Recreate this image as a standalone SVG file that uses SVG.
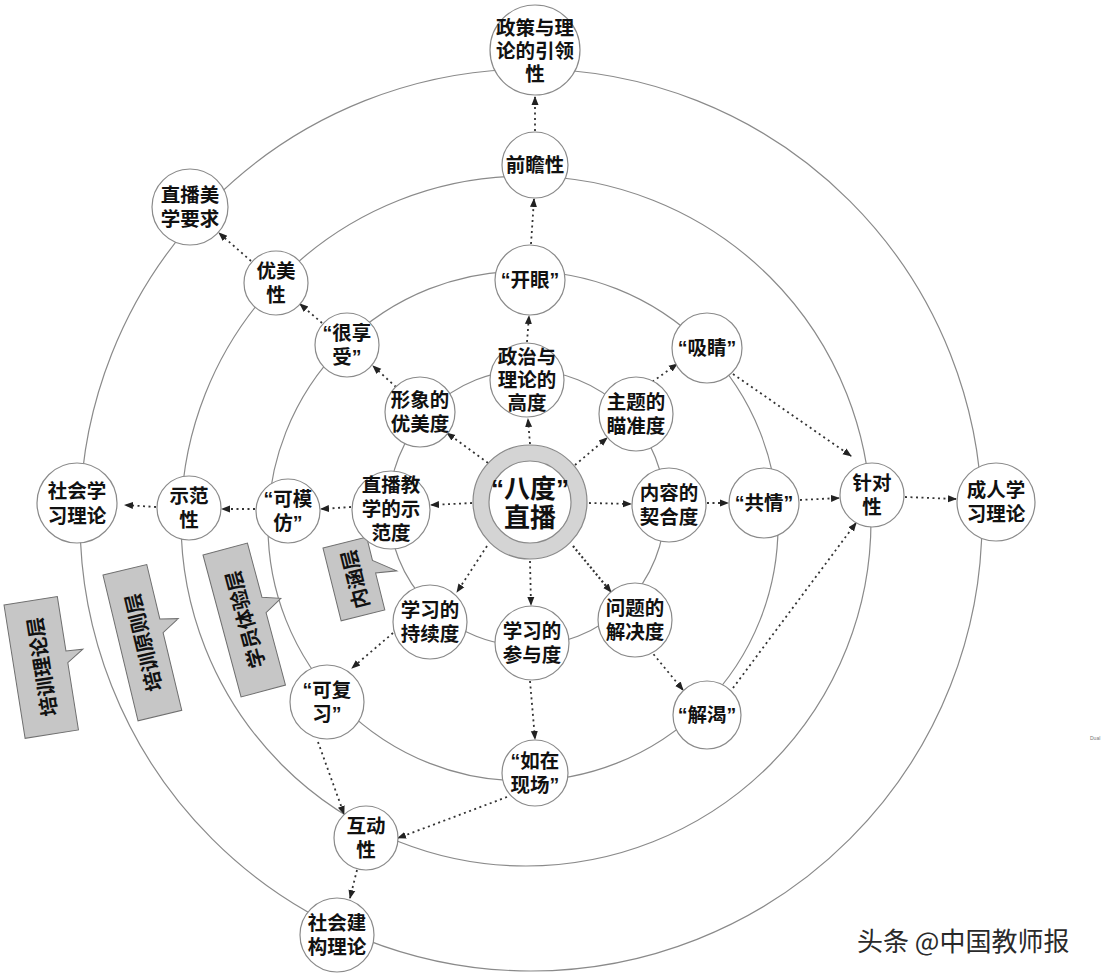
<svg xmlns="http://www.w3.org/2000/svg" width="1114" height="978" viewBox="0 0 1114 978">
<defs>
<style>
.ring{fill:none;stroke:#8a8a8a;stroke-width:1.2}
.nd{fill:#fff;stroke:#8a8a8a;stroke-width:1.2}
.t{font-family:"Liberation Sans","Noto Sans CJK SC",sans-serif;font-weight:700;font-size:19.5px;fill:#111;text-anchor:middle;dominant-baseline:central}
.tc{font-size:26px}
.conn path{fill:none;stroke:#333;stroke-width:1.8;stroke-dasharray:2 3.5;marker-end:url(#ah)}
.box{fill:#c6c6c6;stroke:#6f6f6f;stroke-width:1}
.bt{font-family:"Noto Sans CJK SC",sans-serif;font-weight:700;font-size:20px;fill:#111;text-anchor:middle;dominant-baseline:central}
.wm{font-family:"Noto Sans CJK SC",sans-serif;font-size:26px;fill:#2a2a2a}
</style>
<marker id="ah" markerUnits="userSpaceOnUse" markerWidth="9" markerHeight="9" refX="8" refY="4.5" orient="auto">
<path d="M0,1 L9,4.5 L0,8 z" fill="#222"/>
</marker>
</defs>
<rect width="1114" height="978" fill="#fff"/>

<g id="rings">
<circle class="ring" cx="531" cy="520" r="451"/>
<circle class="ring" cx="526" cy="521" r="345"/>
<circle class="ring" cx="523" cy="526" r="255"/>
<circle class="ring" cx="527" cy="508" r="138"/>
</g>

<g id="callouts">
<g id="box-theory" transform="translate(4,605) rotate(-9)">
<path class="box" d="M0,0 L54,0 L54,55 L71,56 L54,67 L54,135 L0,135 Z"/>
<text class="bt" transform="translate(27,67) rotate(-90)">培训理论层</text>
</g>
<g id="box-principle" transform="translate(103,575) rotate(-13.5)">
<path class="box" d="M0,0 L45,0 L45,56 L63,60 L45,70 L45,150 L0,150 Z"/>
<text class="bt" transform="translate(22.5,75) rotate(-90)">培训原则层</text>
</g>
<g id="box-experience" transform="translate(203,555) rotate(-15)">
<path class="box" d="M0,0 L46,0 L46,56 L64,62 L46,72 L46,147 L0,147 Z"/>
<text class="bt" transform="translate(23,73) rotate(-90)">学员体验层</text>
</g>
<g id="box-connotation" transform="translate(323,548) rotate(-14)">
<path class="box" d="M0,0 L45,0 L45,24 L66,40 L45,37 L45,75 L0,75 Z"/>
<text class="bt" transform="translate(22.5,38) rotate(-90)">内涵层</text>
</g>
</g>

<g id="connectors" class="conn">
<path d="M530,444 L528,419"/>
<path d="M527,342 L529,316"/>
<path d="M531,244 L534,199"/>
<path d="M535,131 L535,97"/>
<path d="M488,463 L447,433"/>
<path d="M396,387 L373,366"/>
<path d="M322,323 L300,304"/>
<path d="M251,261 L219,233"/>
<path d="M575,465 L607,438"/>
<path d="M648,385 L677,364"/>
<path d="M733,374 L851,456"/>
<path d="M589,503 L631,504"/>
<path d="M707,503 L728,503"/>
<path d="M800,500 L839,498"/>
<path d="M905,497 L956,499"/>
<path d="M472,503 L431,505"/>
<path d="M351,507 L321,509"/>
<path d="M255,509 L222,509"/>
<path d="M156,507 L125,505"/>
<path d="M487,546 L457,592"/>
<path d="M393,633 L352,668"/>
<path d="M318,742 L344,814"/>
<path d="M530,561 L531,605"/>
<path d="M530,681 L535,739"/>
<path d="M507,797 L398,838"/>
<path d="M357,870 L350,898"/>
<path d="M573,546 L611,592" style="stroke-dasharray:2 2.5;stroke-width:2.2"/>
<path d="M650,650 L683,690"/>
<path d="M733,688 L856,523"/>
</g>

<g id="n-policy"><circle class="nd" cx="535" cy="50" r="45"/>
<text class="t" x="535" y="28">政策与理</text><text class="t" x="535" y="51">论的引领</text><text class="t" x="535" y="74">性</text></g>
<g id="n-foresight"><circle class="nd" cx="535" cy="165" r="33"/>
<text class="t" x="535" y="165">前瞻性</text></g>
<g id="n-aesthetic"><circle class="nd" cx="190" cy="207" r="38"/>
<text class="t" x="190" y="195">直播美</text><text class="t" x="190" y="219">学要求</text></g>
<g id="n-beauty"><circle class="nd" cx="276" cy="283" r="32"/>
<text class="t" x="276" y="271">优美</text><text class="t" x="276" y="295">性</text></g>
<g id="n-enjoy"><circle class="nd" cx="347" cy="345" r="32"/>
<text class="t" x="347" y="333">“很享</text><text class="t" x="347" y="357">受”</text></g>
<g id="n-eyeopen"><circle class="nd" cx="530" cy="280" r="35"/>
<text class="t" x="530" y="280">“开眼”</text></g>
<g id="n-eyecatch"><circle class="nd" cx="707" cy="348" r="35"/>
<text class="t" x="707" y="348">“吸睛”</text></g>
<g id="n-height"><circle class="nd" cx="527" cy="380" r="37"/>
<text class="t" x="527" y="357">政治与</text><text class="t" x="527" y="380">理论的</text><text class="t" x="527" y="403">高度</text></g>
<g id="n-image"><circle class="nd" cx="420" cy="412" r="35"/>
<text class="t" x="420" y="400">形象的</text><text class="t" x="420" y="424">优美度</text></g>
<g id="n-theme"><circle class="nd" cx="636" cy="414" r="37"/>
<text class="t" x="636" y="402">主题的</text><text class="t" x="636" y="426">瞄准度</text></g>
<g id="n-social"><circle class="nd" cx="77" cy="503" r="40"/>
<text class="t" x="77" y="491">社会学</text><text class="t" x="77" y="516">习理论</text></g>
<g id="n-demo"><circle class="nd" cx="189" cy="508" r="32"/>
<text class="t" x="189" y="496">示范</text><text class="t" x="189" y="520">性</text></g>
<g id="n-imitate"><circle class="nd" cx="288" cy="511" r="32"/>
<text class="t" x="288" y="499">“可模</text><text class="t" x="288" y="523">仿”</text></g>
<g id="n-demodeg"><circle class="nd" cx="391" cy="510" r="39"/>
<text class="t" x="391" y="485">直播教</text><text class="t" x="391" y="509">学的示</text><text class="t" x="391" y="533">范度</text></g>
<g id="n-center"><circle cx="530" cy="502" r="57" fill="#d4d4d4" stroke="#8a8a8a" stroke-width="1.2"/>
<circle class="nd" cx="530" cy="502" r="41"/>
<text class="t tc" x="530" y="489">“八度”</text><text class="t tc" x="530" y="518">直播</text></g>
<g id="n-content"><circle class="nd" cx="669" cy="505" r="37"/>
<text class="t" x="669" y="493">内容的</text><text class="t" x="669" y="517">契合度</text></g>
<g id="n-empathy"><circle class="nd" cx="764" cy="503" r="35"/>
<text class="t" x="764" y="503">“共情”</text></g>
<g id="n-target"><circle class="nd" cx="872" cy="495" r="32"/>
<text class="t" x="872" y="483">针对</text><text class="t" x="872" y="507">性</text></g>
<g id="n-adult"><circle class="nd" cx="996" cy="502" r="39"/>
<text class="t" x="996" y="490">成人学</text><text class="t" x="996" y="514">习理论</text></g>
<g id="n-sustain"><circle class="nd" cx="430" cy="622" r="37"/>
<text class="t" x="430" y="610">学习的</text><text class="t" x="430" y="634">持续度</text></g>
<g id="n-partic"><circle class="nd" cx="532" cy="643" r="37"/>
<text class="t" x="532" y="631">学习的</text><text class="t" x="532" y="655">参与度</text></g>
<g id="n-solve"><circle class="nd" cx="635" cy="620" r="37"/>
<text class="t" x="635" y="608">问题的</text><text class="t" x="635" y="632">解决度</text></g>
<g id="n-review"><circle class="nd" cx="327" cy="702" r="37"/>
<text class="t" x="327" y="690">“可复</text><text class="t" x="327" y="714">习”</text></g>
<g id="n-quench"><circle class="nd" cx="707" cy="715" r="34"/>
<text class="t" x="707" y="715">“解渴”</text></g>
<g id="n-scene"><circle class="nd" cx="535" cy="773" r="33"/>
<text class="t" x="535" y="761">“如在</text><text class="t" x="535" y="785">现场”</text></g>
<g id="n-interact"><circle class="nd" cx="366" cy="838" r="32"/>
<text class="t" x="366" y="826">互动</text><text class="t" x="366" y="850">性</text></g>
<g id="n-construct"><circle class="nd" cx="337" cy="935" r="37"/>
<text class="t" x="337" y="923">社会建</text><text class="t" x="337" y="947">构理论</text></g>

<text class="wm" x="857" y="951">头条 @中国教师报</text>
<text x="1090" y="740" font-family="Liberation Sans,sans-serif" font-size="5" fill="#777">Dual</text>
</svg>
